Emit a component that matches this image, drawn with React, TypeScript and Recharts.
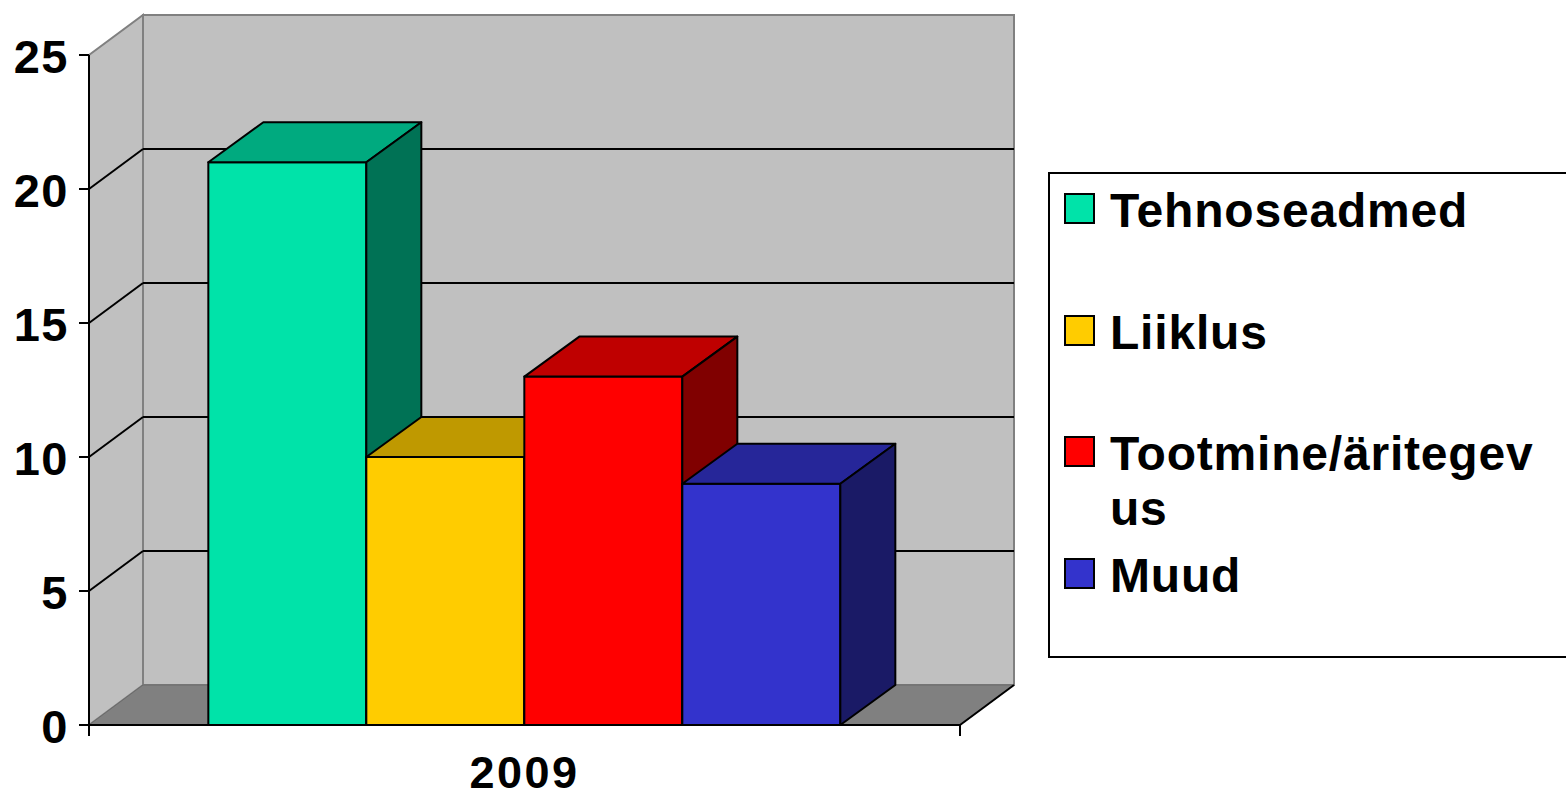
import React from "react";
import {
  Bar,
  BarChart,
  Legend,
  ReferenceArea,
  ReferenceLine,
  XAxis,
  YAxis,
} from "recharts";

const years = ["2009"];
const seriesNames = ["Tehnoseadmed", "Liiklus", "Tootmine/äritegevus", "Muud"];
const tehnoseadmed = [21];
const liiklus = [10];
const tootmine = [13];
const muud = [9];
const yTicks = [0, 5, 10, 15, 20, 25];
const gridValues = [5, 10, 15, 20];

const seriesValues = [tehnoseadmed, liiklus, tootmine, muud];
const seriesKeys = ["s0", "s1", "s2", "s3"];

// front / top / side colours of each 3D bar
const faces = [
  { front: "#00E3A9", top: "#00AA7F", side: "#007255" },
  { front: "#FFCC00", top: "#BF9900", side: "#806600" },
  { front: "#FF0000", top: "#BF0000", side: "#800000" },
  { front: "#3333CC", top: "#262699", side: "#1A1A66" },
];

const data = years.map((year, i) => {
  const row: Record<string, string | number> = { year };
  seriesKeys.forEach((k, s) => {
    row[k] = seriesValues[s][i];
  });
  return row;
});

const FONT = "Arial, 'Liberation Sans', sans-serif";
const WALL_DX = 54;
const WALL_DY = 40;
const BAR_DX = 55;
const BAR_DY = 40;

function make3DBar(top: string, side: string) {
  return (props: any) => {
    const { x, y, width: w, height: h, fill } = props;
    if (w == null || h == null) return <g />;
    return (
      <g stroke="#000" strokeWidth={2} strokeLinejoin="round">
        <rect x={x} y={y} width={w} height={h} fill={fill} />
        <polygon
          points={`${x},${y} ${x + BAR_DX},${y - BAR_DY} ${x + w + BAR_DX},${y - BAR_DY} ${x + w},${y}`}
          fill={top}
        />
        <polygon
          points={`${x + w},${y} ${x + w + BAR_DX},${y - BAR_DY} ${x + w + BAR_DX},${y + h - BAR_DY} ${x + w},${y + h}`}
          fill={side}
        />
      </g>
    );
  };
}

function Walls(props: any) {
  const { x, y, width: w, height: h } = props;
  const b = y + h;
  return (
    <g>
      <polygon
        points={`${x},${y} ${x + WALL_DX},${y - WALL_DY} ${x + WALL_DX},${b - WALL_DY} ${x},${b}`}
        fill="#C0C0C0"
        stroke="#808080"
        strokeWidth={2}
      />
      <rect
        x={x + WALL_DX}
        y={y - WALL_DY}
        width={w}
        height={h}
        fill="#C0C0C0"
        stroke="#808080"
        strokeWidth={2}
      />
      <polygon
        points={`${x},${b} ${x + w},${b} ${x + w + WALL_DX},${b - WALL_DY} ${x + WALL_DX},${b - WALL_DY}`}
        fill="#808080"
        stroke="#6a6a6a"
        strokeWidth={1}
      />
      <line x1={x + w} y1={b} x2={x + w + WALL_DX} y2={b - WALL_DY} stroke="#000" strokeWidth={2} />
      <line x1={x} y1={b} x2={x} y2={b + 11} stroke="#000" strokeWidth={2} />
      <line x1={x + w} y1={b} x2={x + w} y2={b + 11} stroke="#000" strokeWidth={2} />
    </g>
  );
}

function GridLine3D(props: any) {
  const { x1, y1, x2 } = props;
  return (
    <g stroke="#000" strokeWidth={2}>
      <line x1={x1} y1={y1} x2={x1 + WALL_DX} y2={y1 - WALL_DY} />
      <line x1={x1 + WALL_DX} y1={y1 - WALL_DY} x2={x2 + WALL_DX} y2={y1 - WALL_DY} />
    </g>
  );
}

function YTick(props: any) {
  const { x, y, payload } = props;
  return (
    <text
      x={x}
      y={y}
      dy={18}
      textAnchor="end"
      fontFamily={FONT}
      fontWeight="bold"
      fontSize={47}
      letterSpacing={1.5}
      fill="#000"
    >
      {payload.value}
    </text>
  );
}

function XTick(props: any) {
  const { x, y, payload } = props;
  return (
    <text
      x={x}
      y={y}
      dy={61}
      textAnchor="middle"
      fontFamily={FONT}
      fontWeight="bold"
      fontSize={45}
      letterSpacing={2.5}
      fill="#000"
    >
      {payload.value}
    </text>
  );
}

function LegendBox({ payload }: any) {
  const items = [...(payload || [])].sort(
    (a: any, b: any) => seriesNames.indexOf(a.value) - seriesNames.indexOf(b.value)
  );
  return (
    <div
      style={{
        position: "relative",
        width: 540,
        height: 486,
        boxSizing: "border-box",
        border: "2px solid #000",
        background: "#fff",
        fontFamily: FONT,
        fontWeight: "bold",
        fontSize: 48,
        lineHeight: "55px",
        color: "#000",
      }}
    >
      {items.map((it: any, i: number) => (
        <div key={it.value} style={{ position: "absolute", left: 0, top: 9 + i * 121.7 }}>
          <div
            style={{
              position: "absolute",
              left: 14,
              top: 10,
              width: 31,
              height: 31,
              boxSizing: "border-box",
              border: "2px solid #000",
              background: it.color,
            }}
          />
          <div
            style={{
              position: "absolute",
              left: 60,
              top: 0,
              width: 448,
              wordBreak: "break-all",
              letterSpacing: 0.8,
            }}
          >
            {it.value}
          </div>
        </div>
      ))}
    </div>
  );
}

export default function App() {
  return (
    <div
      style={{
        position: "absolute",
        left: 0,
        top: 0,
        width: 1566,
        height: 797,
        overflow: "hidden",
        background: "#fff",
      }}
    >
      <BarChart
        width={1566}
        height={797}
        data={data}
        margin={{ top: 55, right: 606, bottom: 0, left: 0 }}
        barGap={0}
        barCategoryGap="13.7%"
      >
        <XAxis
          dataKey="year"
          height={72}
          axisLine={{ stroke: "#000", strokeWidth: 2 }}
          tickLine={false}
          tickSize={0}
          tick={<XTick />}
        />
        <YAxis
          type="number"
          domain={[0, 25]}
          ticks={yTicks}
          interval={0}
          width={89}
          axisLine={{ stroke: "#000", strokeWidth: 2 }}
          tickLine={{ stroke: "#000", strokeWidth: 2 }}
          tickSize={10}
          tickMargin={10}
          tick={<YTick />}
        />
        <ReferenceArea y1={0} y2={25} shape={Walls} zIndex={-95} ifOverflow="visible" />
        {gridValues.map((v) => (
          <ReferenceLine key={v} y={v} shape={GridLine3D} zIndex={-90} ifOverflow="visible" />
        ))}
        {seriesKeys.map((k, i) => (
          <Bar
            key={k}
            dataKey={k}
            name={seriesNames[i]}
            fill={faces[i].front}
            shape={make3DBar(faces[i].top, faces[i].side)}
            isAnimationActive={false}
          />
        ))}
        <Legend
          layout="vertical"
          align="center"
          verticalAlign="middle"
          wrapperStyle={{ left: 1048, top: 172, width: 540, height: 486 }}
          content={(p: any) => <LegendBox payload={p.payload} />}
        />
      </BarChart>
    </div>
  );
}
